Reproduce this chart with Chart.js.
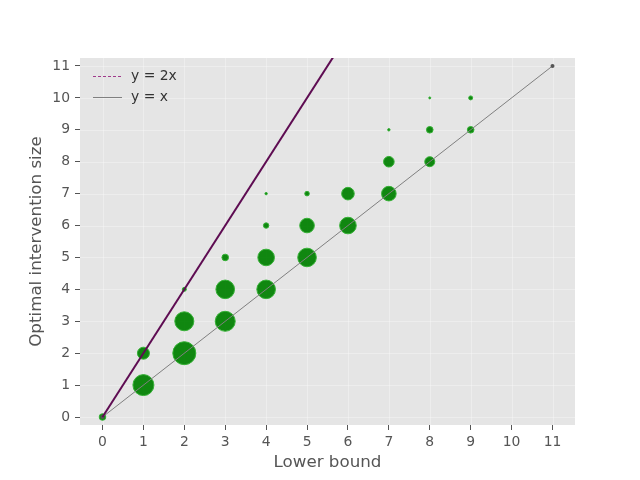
<!DOCTYPE html>
<html><head><meta charset="utf-8">
<script src="https://cdn.jsdelivr.net/npm/chart.js@4"></script>
<style>html,body{margin:0;padding:0;background:#fff}</style>
</head><body>
<canvas id="c" width="640" height="480"></canvas>
<script>
// Data
const lowerBound   = [0, 1, 1, 2, 2, 2, 3, 3, 3, 4, 4, 4, 4, 5, 5, 5, 6, 6, 7, 7, 7, 8, 8, 8, 9, 9];
const optimalSize  = [0, 1, 2, 2, 3, 4, 3, 4, 5, 4, 5, 6, 7, 5, 6, 7, 6, 7, 7, 8, 9, 8, 9, 10, 9, 10];
const bubbleRadius = [3.3, 10.5, 6, 11.5, 9.5, 2, 10, 9.3, 3.3, 9.3, 8.3, 2.7, 1.2, 9.3, 7.3, 2.3, 8.3, 6.3, 7.3, 5.3, 1.2, 5, 3.3, 1, 3.3, 2];
const xTicks = [0, 1, 2, 3, 4, 5, 6, 7, 8, 9, 10, 11];
const yTicks = [0, 1, 2, 3, 4, 5, 6, 7, 8, 9, 10, 11];
const doubleLineX = [0, 6];
const doubleLineY = [0, 12];
const identityX = [0, 11];
const identityY = [0, 11];
const legendLabels = ['y = 2x', 'y = x'];

const FONT = "'DejaVu Sans', sans-serif";

const bgPlugin = {
  id: 'bg',
  beforeDraw(chart) {
    const {ctx, chartArea: a, scales} = chart;
    ctx.save();
    ctx.fillStyle = '#E5E5E5';
    ctx.fillRect(a.left, a.top, a.right - a.left, a.bottom - a.top);
    ctx.strokeStyle = 'rgba(255,255,255,0.3)';
    ctx.lineWidth = 1;
    xTicks.forEach(v => {
      const p = Math.round(scales.x.getPixelForValue(v)) + 0.5;
      ctx.beginPath(); ctx.moveTo(p, a.top); ctx.lineTo(p, a.bottom); ctx.stroke();
    });
    yTicks.forEach(v => {
      const p = Math.round(scales.y.getPixelForValue(v)) + 0.5;
      ctx.beginPath(); ctx.moveTo(a.left, p); ctx.lineTo(a.right, p); ctx.stroke();
    });
    ctx.restore();
  }
};

const legendPlugin = {
  id: 'customLegend',
  afterDraw(chart) {
    const {ctx, chartArea: a} = chart;
    const styles = [
      {color: '#a03c8c', dash: [3, 2], width: 1.2},
      {color: '#808080', dash: [], width: 1}
    ];
    ctx.save();
    ctx.font = '13.9px ' + FONT;
    ctx.textBaseline = 'middle';
    ctx.fillStyle = '#333333';
    legendLabels.forEach((t, i) => {
      const y = a.top + 18 + i * 21;
      const s = styles[i];
      ctx.strokeStyle = s.color; ctx.lineWidth = s.width; ctx.setLineDash(s.dash);
      ctx.beginPath(); ctx.moveTo(a.left + 13, y + 0.5); ctx.lineTo(a.left + 42, y + 0.5); ctx.stroke();
      ctx.fillText(t, a.left + 51, y);
    });
    ctx.restore();
  }
};

const bubbles = lowerBound.map((x, i) => ({x: x, y: optimalSize[i], r: bubbleRadius[i]}));

new Chart(document.getElementById('c'), {
  type: 'bubble',
  data: {
    datasets: [
      {
        type: 'line', label: legendLabels[0],
        data: doubleLineX.map((x, i) => ({x: x, y: doubleLineY[i]})),
        borderColor: '#5e0c52', borderWidth: 2, pointRadius: 0, order: 0
      },
      {
        type: 'line', label: legendLabels[1],
        data: identityX.map((x, i) => ({x: x, y: identityY[i]})),
        borderColor: '#808080', borderWidth: 1, pointRadius: 2,
        pointBackgroundColor: '#555555', pointBorderWidth: 0, order: 1
      },
      {
        type: 'bubble', label: 'points',
        data: bubbles,
        backgroundColor: 'rgba(0,128,0,0.93)', borderColor: '#35b035', borderWidth: 1, order: 2
      }
    ]
  },
  options: {
    responsive: false, animation: false, devicePixelRatio: 1,
    layout: {padding: {left: 23, right: 65, top: 58, bottom: 3}},
    plugins: {
      tooltip: {enabled: false},
      legend: {display: false}
    },
    scales: {
      x: {
        type: 'linear', min: -0.55, max: 11.55,
        afterBuildTicks: s => { s.ticks = xTicks.map(v => ({value: v})); },
        afterFit: s => { s.height = 52; },
        grid: {drawOnChartArea: false, drawTicks: true, tickLength: 5, tickColor: '#555555', tickWidth: 1},
        border: {display: false},
        ticks: {color: '#555555', font: {family: FONT, size: 13.9}, padding: 4, maxRotation: 0, autoSkip: false},
        title: {display: true, text: 'Lower bound', color: '#555555', font: {family: FONT, size: 16.7}, padding: {top: 4, bottom: 4}}
      },
      y: {
        type: 'linear', min: -0.25, max: 11.25,
        afterBuildTicks: s => { s.ticks = yTicks.map(v => ({value: v})); },
        afterFit: s => { s.width = 57; },
        grid: {drawOnChartArea: false, drawTicks: true, tickLength: 5, tickColor: '#555555', tickWidth: 1},
        border: {display: false},
        ticks: {color: '#555555', font: {family: FONT, size: 13.9}, padding: 5, autoSkip: false},
        title: {display: true, text: 'Optimal intervention size', color: '#555555', font: {family: FONT, size: 16.7}, padding: {top: 4, bottom: 4}}
      }
    }
  },
  plugins: [bgPlugin, legendPlugin]
});
</script>
</body></html>
